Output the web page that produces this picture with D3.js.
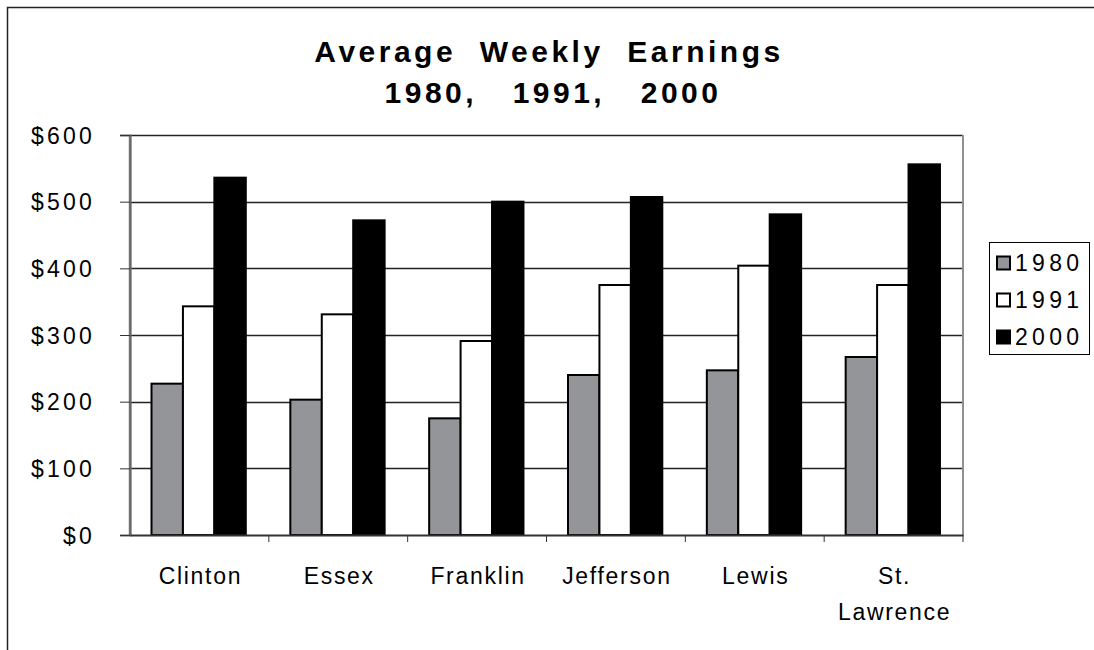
<!DOCTYPE html>
<html><head><meta charset="utf-8">
<script src="https://cdn.jsdelivr.net/npm/d3@7"></script>
<style>
body{margin:0;background:#fff}
svg{display:block}
text{font-family:"Liberation Sans",Arial,Helvetica,sans-serif;fill:#000}
</style>
</head><body>
<svg id="chart" width="1094" height="650"></svg>
<script>
// ---- data ----
const categories = ["Clinton", "Essex", "Franklin", "Jefferson", "Lewis", "St. Lawrence"];
const years = ["1980", "1991", "2000"];
const values1980 = [227, 203, 175, 240, 247, 267];
const values1991 = [343, 331, 291, 375, 404, 375];
const values2000 = [536, 472, 500, 507, 481, 556];
const yTickValues = [0, 100, 200, 300, 400, 500, 600];
const titleLines = ["Average  Weekly  Earnings", "1980,   1991,   2000"];
const seriesColors = ["#949599", "#ffffff", "#000000"];

// ---- layout ----
const svg = d3.select("#chart");
const plot = {left: 130, right: 963, top: 135, bottom: 535};
const series = [values1980, values1991, values2000];

const x0 = d3.scaleBand().domain(categories).range([plot.left, plot.right]).padding(0);
const groupInset = 21.5, groupWidth = 94.3;
const x1 = d3.scaleBand().domain(years).range([groupInset, groupInset + groupWidth]).padding(0);
const y = d3.scaleLinear().domain([0, 600]).range([plot.bottom, plot.top]);

// outer frame
svg.append("path").attr("d", "M7.5,650 V7.5 H1094")
  .attr("fill", "none").attr("stroke", "#222").attr("stroke-width", 1.5);

// gridlines
svg.append("g").selectAll("line").data(yTickValues.filter(v => v > 0)).join("line")
  .attr("x1", plot.left).attr("x2", plot.right)
  .attr("y1", d => Math.round(y(d)) + 0.5).attr("y2", d => Math.round(y(d)) + 0.5)
  .attr("stroke", "#222").attr("stroke-width", 1.3);

// plot frame left/right
svg.append("line").attr("x1", plot.left).attr("x2", plot.left).attr("y1", plot.top).attr("y2", plot.bottom)
  .attr("stroke", "#808080").attr("stroke-width", 2.5);
svg.append("line").attr("x1", plot.right).attr("x2", plot.right).attr("y1", plot.top).attr("y2", plot.bottom)
  .attr("stroke", "#909090").attr("stroke-width", 2);

// bars
const groups = svg.append("g").selectAll("g").data(categories).join("g")
  .attr("transform", d => `translate(${x0(d)},0)`);
groups.selectAll("rect").data((c, i) => years.map((yr, s) => ({yr, s, v: series[s][i]}))).join("rect")
  .attr("x", d => x1(d.yr))
  .attr("width", x1.bandwidth())
  .attr("y", d => y(d.v))
  .attr("height", d => y(0) - y(d.v))
  .attr("fill", d => seriesColors[d.s])
  .attr("stroke", "#000").attr("stroke-width", 2);

// y axis
const yAxis = d3.axisLeft(y).tickValues(yTickValues).tickSize(10).tickPadding(0).tickFormat(d => "$" + d);
const gy = svg.append("g").attr("transform", `translate(${plot.left},0)`).call(yAxis);
gy.select(".domain").attr("stroke", "#666").attr("stroke-width", 2);
gy.selectAll(".tick line").attr("stroke", "#333");
gy.selectAll(".tick text").attr("x", -35).attr("font-size", 23).attr("letter-spacing", "3.2px")
  .attr("font-family", '"Liberation Sans",Arial,sans-serif').attr("fill", "#000").attr("dy", "0.36em");

// x axis
const xAxis = d3.axisBottom(x0).tickSize(0).tickFormat("");
const gx = svg.append("g").attr("transform", `translate(0,${plot.bottom})`).call(xAxis);
gx.select(".domain").attr("stroke", "#333").attr("stroke-width", 2);
// boundary ticks
svg.append("g").selectAll("line").data(categories.slice(1).concat(["__end"])).join("line")
  .attr("x1", d => d === "__end" ? plot.right : x0(d)).attr("x2", d => d === "__end" ? plot.right : x0(d))
  .attr("y1", plot.bottom).attr("y2", plot.bottom + 7)
  .attr("stroke", "#333").attr("stroke-width", 1);

// category labels
const labels = svg.append("g").selectAll("text").data(categories).join("text")
  .attr("x", d => x0(d) + x0.bandwidth() / 2 + 1)
  .attr("y", 584)
  .attr("text-anchor", "middle").attr("font-size", 23).attr("letter-spacing", "1.7px");
labels.selectAll("tspan").data(d => d.split(" ")).join("tspan")
  .attr("x", function() { return d3.select(this.parentNode).attr("x"); })
  .attr("dy", (d, i) => i === 0 ? 0 : 36)
  .text(d => d);

// title
svg.append("g").selectAll("text").data(titleLines).join("text")
  .attr("x", (d, i) => i === 0 ? 549 : 553).attr("y", (d, i) => 62 + i * 41)
  .attr("text-anchor", "middle").attr("font-size", 30).attr("font-weight", "bold")
  .attr("letter-spacing", "3.5px").style("white-space", "pre")
  .text(d => d);

// legend
const legend = svg.append("g");
legend.append("rect").attr("x", 989.5).attr("y", 242.5).attr("width", 100).attr("height", 112)
  .attr("fill", "#fff").attr("stroke", "#000").attr("stroke-width", 1);
const rowY = d3.scalePoint().domain(years).range([263, 337]);
const items = legend.selectAll("g.item").data(years).join("g").attr("class", "item")
  .attr("transform", d => `translate(0,${rowY(d)})`);
items.append("rect").attr("x", 997).attr("y", -6.5).attr("width", 13).attr("height", 13)
  .attr("fill", (d, i) => seriesColors[i]).attr("stroke", "#000").attr("stroke-width", 2);
items.append("text").attr("x", 1015).attr("y", 0).attr("dy", "0.36em")
  .attr("font-size", 23).attr("letter-spacing", "4.3px").text(d => d);
</script>
</body></html>
